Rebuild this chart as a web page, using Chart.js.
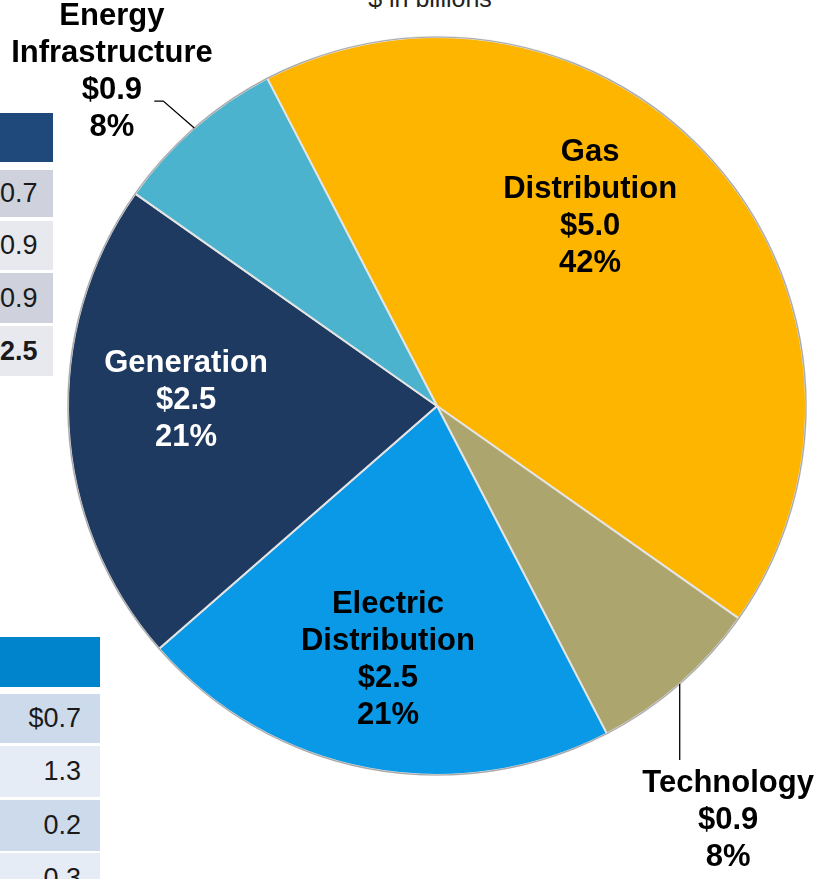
<!DOCTYPE html>
<html>
<head>
<meta charset="utf-8">
<script src="https://cdn.jsdelivr.net/npm/chart.js@4.4.1/dist/chart.umd.min.js"></script>
<style>
  html, body { margin: 0; padding: 0; background: #fff; }
  body { width: 821px; height: 879px; position: relative; overflow: hidden; font-family: "Liberation Sans", Arial, sans-serif; }
  .cell { position: absolute; left: 0; box-sizing: border-box; text-align: right; font-size: 27px; color: #1a1a1a; }
  #subtitle { position: absolute; left: 330px; width: 200px; top: -16px; text-align: center; font-size: 25px; color: #222; }
  #pie { position: absolute; left: 0; top: 0; }
</style>
</head>
<body>
<div id="subtitle">$ in billions</div>
<div id="tables"></div>
<canvas id="pie" width="821" height="879"></canvas>
<script>
// Pie data
const segments = ['Gas Distribution', 'Technology', 'Electric Distribution', 'Generation', 'Energy Infrastructure'];
const labelLines = [['Gas', 'Distribution'], ['Technology'], ['Electric', 'Distribution'], ['Generation'], ['Energy', 'Infrastructure']];
const amounts = [5.0, 0.9, 2.5, 2.5, 0.9];
const sliceColors = ['#FDB500', '#ADA56E', '#0A99E6', '#1F3A60', '#4BB3CE'];

// Partial tables on the left edge (cut off in the source)
const topTableValues = ['0.7', '0.9', '0.9', '2.5'];
const bottomTableValues = ['$0.7', '1.3', '0.2', '0.3'];

// build the table fragments
function addCell(top, h, w, bg, text, padRight, bold) {
    const d = document.createElement('div');
    d.className = 'cell';
    d.style.top = top + 'px';
    d.style.height = h + 'px';
    d.style.width = w + 'px';
    d.style.background = bg;
    d.style.lineHeight = h + 'px';
    d.style.paddingRight = padRight + 'px';
    if (bold) d.style.fontWeight = 'bold';
    d.textContent = text;
    document.getElementById('tables').appendChild(d);
}
addCell(113, 49, 53, '#1F497A', '', 0, false);
const topRows = [[170, 47], [221, 49], [273, 50], [326, 50]];
topTableValues.forEach((v, i) => {
    addCell(topRows[i][0], topRows[i][1], 53, i % 2 ? '#E7E9EF' : '#CFD2DC', v, 18, i === topTableValues.length - 1);
});
addCell(637, 50, 100, '#0085CC', '', 0, false);
const bottomRows = [[694, 49], [746, 51], [800, 51], [853, 50]];
bottomTableValues.forEach((v, i) => {
    addCell(bottomRows[i][0], bottomRows[i][1], 100, i % 2 ? '#E6ECF6' : '#CCDAEC', v, 19, false);
});

const total = amounts.reduce((a, b) => a + b, 0);

// Draws the multi-line labels and the two leader lines
const sliceLabels = {
    id: 'sliceLabels',
    afterDatasetsDraw(chart, args, opts) {
        const ctx = chart.ctx;
        const meta = chart.getDatasetMeta(0);
        ctx.save();
        // thin grey rim round the pie
        const a0 = meta.data[0];
        ctx.beginPath();
        ctx.arc(a0.x, a0.y, a0.outerRadius, 0, Math.PI * 2);
        ctx.strokeStyle = '#A8A8A8';
        ctx.lineWidth = 1.2;
        ctx.stroke();

        meta.data.forEach((arc, i) => {
            const { x, y, outerRadius, startAngle, endAngle } = arc.getProps(['x', 'y', 'outerRadius', 'startAngle', 'endAngle'], true);
            const pos = opts.positions[i];
            const lx = x + pos[0] * outerRadius;
            const ly = y + pos[1] * outerRadius;
            const lines = labelLines[i].concat(['$' + amounts[i].toFixed(1), Math.round(amounts[i] / total * 100) + '%']);
            ctx.font = 'bold 31px "Liberation Sans", Arial, sans-serif';
            ctx.fillStyle = opts.colors[i];
            ctx.textAlign = 'center';
            ctx.textBaseline = 'middle';
            const top = ly - (lines.length - 1) * opts.lineHeight / 2;
            lines.forEach((t, k) => ctx.fillText(t, lx, top + k * opts.lineHeight));

            const leader = opts.leaders[i];
            if (leader) {
                const mid = (startAngle + endAngle) / 2;
                let px = x + Math.cos(mid) * outerRadius;
                let py = y + Math.sin(mid) * outerRadius;
                ctx.beginPath();
                ctx.moveTo(px, py);
                leader.forEach(p => { px += p[0]; py += p[1]; ctx.lineTo(px, py); });
                ctx.strokeStyle = '#000';
                ctx.lineWidth = 1.3;
                ctx.stroke();
            }
        });
        ctx.restore();
    }
};

new Chart(document.getElementById('pie'), {
    type: 'pie',
    data: {
        labels: segments,
        datasets: [{
            data: amounts,
            backgroundColor: sliceColors,
            borderColor: '#E4E4E4',
            borderWidth: 2
        }]
    },
    options: {
        responsive: false,
        animation: false,
        rotation: -27.4,
        layout: { padding: { left: 67, right: 14, top: 36, bottom: 103 } },
        plugins: {
            legend: { display: false },
            tooltip: { enabled: false },
            sliceLabels: {
                lineHeight: 37,
                colors: ['#000', '#000', '#000', '#fff', '#000'],
                positions: [[0.415, -0.537], [0.789, 1.122], [-0.133, 0.688], [-0.680, -0.014], [-0.881, -0.905]],
                leaders: [null, [[0, 76]], null, null, [[-31, -27], [-9, 0]]]
            }
        }
    },
    plugins: [sliceLabels]
});
</script>
</body>
</html>
